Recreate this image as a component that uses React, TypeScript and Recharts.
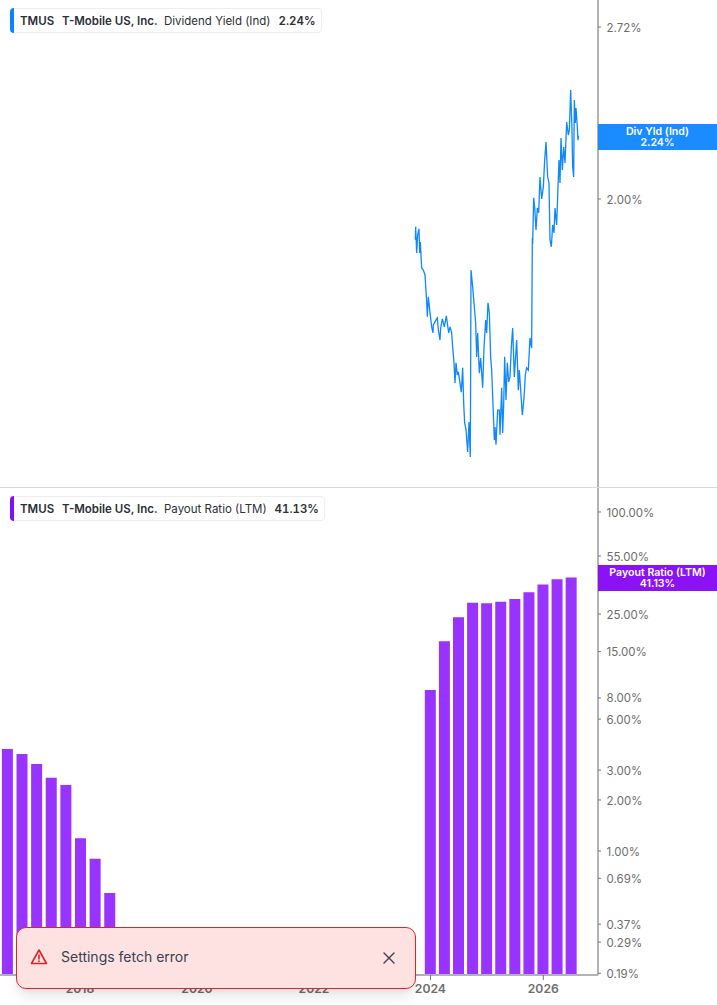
import React from "react";
import { LineChart, Line, BarChart, Bar, XAxis, YAxis } from "recharts";

const sessions = [46,47,50,53,57,59,61,65,70,75,80,82,85,90,95,99,100,108,112,115,120,122,127,133,139,146,150,155,158,162,165,168,172,175,180,184,188,191,194,198,203,207,211,213,218,222,227,230,233,238,242,248,252,257,260,264,268,272,275,280,283,285,288,293,298,300,305,308,311,314,318,322,326,330,334,338,343,350,355,358,364,367,372,376,380,385,390,395,397,398,401,404,408,412,416,420,425,430,434,438,443,447,450,454,458,462,465,470,474,477,480,483,487,491,495,500,505,508,512,516,518,521,523,526,528,531,534,536];
const yieldValues = [1.859,1.903,1.816,1.876,1.896,1.816,1.852,1.768,1.761,1.746,1.664,1.620,1.679,1.632,1.591,1.574,1.597,1.611,1.617,1.583,1.554,1.588,1.614,1.591,1.623,1.574,1.591,1.574,1.535,1.492,1.439,1.492,1.460,1.468,1.439,1.416,1.479,1.389,1.340,1.324,1.272,1.342,1.261,1.761,1.709,1.661,1.602,1.508,1.574,1.465,1.505,1.427,1.532,1.611,1.574,1.661,1.632,1.508,1.473,1.364,1.300,1.330,1.289,1.371,1.371,1.312,1.427,1.316,1.384,1.508,1.396,1.492,1.442,1.455,1.535,1.588,1.455,1.554,1.421,1.473,1.396,1.359,1.401,1.460,1.479,1.473,1.560,1.532,1.866,1.846,2.004,1.972,1.892,1.968,1.951,2.080,2.000,2.043,2.144,2.214,2.080,2.058,1.859,1.836,1.909,1.882,1.968,1.909,2.043,2.144,2.058,2.230,2.106,2.195,2.133,2.295,2.242,2.262,2.430,2.262,2.118,2.080,2.387,2.291,2.353,2.295,2.222,2.240];
const yieldTicks = [2, 2.72];

const quarters = [2016.75,2017,2017.25,2017.5,2017.75,2018,2018.25,2018.5,2023.98,2024.221,2024.462,2024.703,2024.943,2025.184,2025.425,2025.666,2025.906,2026.147,2026.388];
const payoutValues = [4.0,3.73,3.26,2.70,2.45,1.19,0.90,0.565,8.91,17.27,23.9,29.1,28.9,29.5,30.7,33.6,37.3,40.1,41.13];
const payoutTicks = [100,55,25,15,8,6,3,2,1,0.69,0.37,0.29,0.19];
const yearTicks = [2018,2020,2022,2023.99,2025.92];

const yieldData = sessions.map((session, i) => ({ session, value: yieldValues[i] }));
const payoutData = quarters.map((quarter, i) => ({ quarter, value: payoutValues[i] }));

const FONT = "Inter, sans-serif";
const pct = (v: number) => v.toFixed(2) + "%";
const axisStroke = "#b3b3b3";
const yTick = { fill: "#6e6e6e", fontSize: 11.5, fontFamily: FONT, dy: 0.5 };

function Chip({ top, width, color, metric, metricX, val, valX }: any) {
  const span = (left: number, text: string, weight: number, extra: any = {}) => (
    <span style={{ position: "absolute", left, top: 4, lineHeight: "16px", fontSize: 11.5, fontWeight: weight, color: "#2b2f38", whiteSpace: "nowrap", ...extra }}>{text}</span>
  );
  return (
    <div style={{ position: "absolute", left: 10, top, width, height: 25, background: "#fff", border: "1px solid #eeeeee", borderRadius: 4, boxSizing: "border-box", fontFamily: FONT, zIndex: 3 }}>
      <div style={{ position: "absolute", left: -1, top: -1, width: 4, height: 25, background: color, borderRadius: "4px 0 0 4px" }} />
      {span(9, "TMUS", 600)}
      {span(51, "T-Mobile US, Inc.", 600)}
      {span(metricX, metric, 400)}
      {span(valX, val, 600, { fontVariantNumeric: "tabular-nums" })}
    </div>
  );
}

function Tag({ top, color, line1, line2 }: any) {
  return (
    <div style={{ position: "absolute", left: 598, top, width: 119, height: 26, background: color, color: "#fff", fontFamily: FONT, fontSize: 10.6, fontWeight: 600, lineHeight: "11.5px", textAlign: "center", paddingTop: 1.5, boxSizing: "border-box", zIndex: 3 }}>
      <div>{line1}</div>
      <div>{line2}</div>
    </div>
  );
}

export default function App() {
  return (
    <div style={{ position: "absolute", left: 0, top: 0, width: 717, height: 1005, overflow: "hidden", background: "#fff" }}>
      <div style={{ position: "absolute", left: 0, top: 0 }}>
        <LineChart width={717} height={487} data={yieldData} margin={{ top: 0, right: 0, bottom: 0, left: 0 }}>
          <XAxis dataKey="session" type="number" domain={[-1200, 594]} hide allowDataOverflow />
          <YAxis orientation="right" width={119} scale="log" domain={[1.195, 2.8545]} ticks={yieldTicks} interval={0} allowDataOverflow tickFormatter={pct} tick={yTick} tickSize={3} tickMargin={5.6} tickLine={{ stroke: "#777" }} axisLine={{ stroke: axisStroke, strokeWidth: 2 }} />
          <Line dataKey="value" type="linear" stroke="#0F88FF" strokeWidth={1.3} dot={false} activeDot={false} isAnimationActive={false} />
        </LineChart>
      </div>
      <div style={{ position: "absolute", left: 0, top: 487, width: 717, height: 1, background: "#d9d9d9" }} />
      <div style={{ position: "absolute", left: 0, top: 488 }}>
        <BarChart width={717} height={518} data={payoutData} margin={{ top: 0, right: 0, bottom: 0, left: 0 }}>
          <XAxis dataKey="quarter" type="number" domain={[2016.632, 2026.855]} allowDataOverflow height={31} ticks={yearTicks} interval={0} tickFormatter={(v: number) => String(Math.ceil(v))} tick={{ fill: "#6e6e6e", fontSize: 12.2, fontWeight: 600, fontFamily: FONT }} tickSize={5} tickMargin={4} tickLine={{ stroke: "#777" }} axisLine={{ stroke: axisStroke, strokeWidth: 2 }} />
          <YAxis orientation="right" width={119} scale="log" domain={[0.1855, 138.5]} ticks={payoutTicks} interval={0} allowDataOverflow tickFormatter={pct} tick={yTick} tickSize={3} tickMargin={5.6} tickLine={{ stroke: "#777" }} axisLine={{ stroke: axisStroke, strokeWidth: 2 }} />
          <Bar dataKey="value" fill="#9933FF" barSize={11} isAnimationActive={false} />
        </BarChart>
      </div>

      <Chip top={8} width={312} color="#0A84FF" metric="Dividend Yield (Ind)" metricX={153} val="2.24%" valX={267.5} />
      <Chip top={496} width={315} color="#7F0FFF" metric="Payout Ratio (LTM)" metricX={153} val="41.13%" valX={263.5} />
      <Tag top={124} color="#1A8CFF" line1="Div Yld (Ind)" line2="2.24%" />
      <Tag top={565} color="#8A12F5" line1="Payout Ratio (LTM)" line2="41.13%" />

      <div style={{ position: "absolute", left: 16, top: 927, width: 400, height: 62, background: "#FEE2E2", border: "1px solid #DC2626", borderRadius: 10, boxSizing: "border-box", boxShadow: "0 10px 15px -3px rgba(0,0,0,0.1), 0 4px 6px -4px rgba(0,0,0,0.1)", zIndex: 4, fontFamily: FONT }}>
        <svg width="18" height="18" viewBox="0 0 18 18" style={{ position: "absolute", left: 13, top: 20 }}>
          <path d="M9 2 L16.5 15.5 H1.5 Z" fill="none" stroke="#DC2626" strokeWidth="1.6" strokeLinejoin="round" />
          <path d="M9 7 V11" stroke="#DC2626" strokeWidth="1.6" strokeLinecap="round" />
          <circle cx="9" cy="13.2" r="0.9" fill="#DC2626" />
        </svg>
        <span style={{ position: "absolute", left: 44, top: 19, fontSize: 14, lineHeight: "20px", color: "#374151", whiteSpace: "nowrap" }}>Settings fetch error</span>
        <svg width="14" height="14" viewBox="0 0 14 14" style={{ position: "absolute", left: 365, top: 23 }}>
          <path d="M2 2 L12 12 M12 2 L2 12" stroke="#374151" strokeWidth="1.4" strokeLinecap="round" />
        </svg>
      </div>
    </div>
  );
}
